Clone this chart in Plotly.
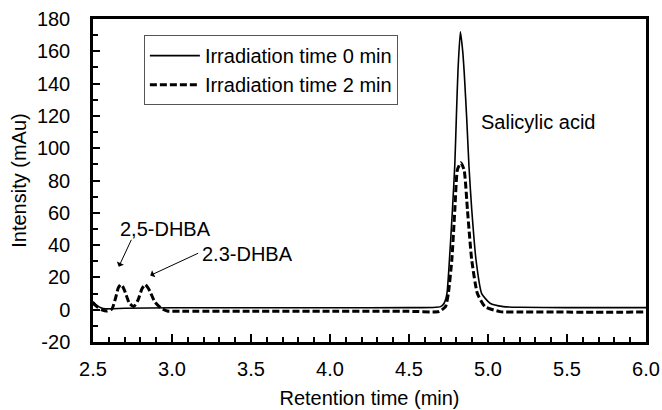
import plotly.graph_objects as go

# Retention time (min) and intensity (mAu)
time_0min = [2.50, 2.52, 2.55, 2.58, 2.62, 2.70, 3.00, 3.50, 4.00, 4.50, 4.65, 4.70,
             4.722, 4.74, 4.756, 4.775, 4.79, 4.80, 4.81, 4.825, 4.84, 4.85, 4.866,
             4.88, 4.897, 4.924, 4.96, 5.013, 5.097, 5.20, 5.50, 6.00]
intensity_0min = [5.0, 3.0, 1.2, 0.5, 0.6, 0.9, 1.2, 1.2, 1.2, 1.3, 1.4, 1.9,
                  4, 10, 31, 62, 90, 120, 148, 172, 160, 146, 117,
                  88, 62, 31, 10, 4, 1.9, 1.5, 1.3, 1.3]

time_2min = [2.50, 2.53, 2.56, 2.59, 2.62, 2.645, 2.66, 2.675, 2.69, 2.705, 2.73,
             2.758, 2.785, 2.81, 2.83, 2.845, 2.86, 2.89, 2.93, 2.97, 3.05, 3.50,
             4.00, 4.50, 4.69, 4.731, 4.749, 4.771, 4.790, 4.806, 4.828, 4.849,
             4.870, 4.897, 4.933, 4.981, 5.076, 5.20, 5.50, 6.00]
intensity_2min = [4.0, 1.5, -0.3, -0.8, 0.5, 8, 13.5, 15.5, 14.0, 10.5, 4,
                  1.9, 6, 13, 15.5, 14.0, 11.5, 5, 1, -0.8, -1.0, -1.0,
                  -1.0, -1.0, -1.1, 1.9, 10, 30.8, 61.7, 86.5, 91, 86.5,
                  61.7, 30.8, 10, 1.9, -1.2, -1.4, -1.5, -1.5]

series_names = ["Irradiation time 0 min", "Irradiation time 2 min"]
x_ticks = [2.5, 3.0, 3.5, 4.0, 4.5, 5.0, 5.5, 6.0]
x_tick_labels = ["2.5", "3.0", "3.5", "4.0", "4.5", "5.0", "5.5", "6.0"]
y_ticks = [-20, 0, 20, 40, 60, 80, 100, 120, 140, 160, 180]
y_tick_labels = ["-20", "0", "20", "40", "60", "80", "100", "120", "140", "160", "180"]

FONT = "Liberation Sans, Arial, sans-serif"
FS = 20

fig = go.Figure()
fig.add_trace(go.Scatter(x=time_0min, y=intensity_0min, mode="lines", name=series_names[0],
                         line=dict(color="black", width=1.6, shape="spline", smoothing=0.5)))
fig.add_trace(go.Scatter(x=time_2min, y=intensity_2min, mode="lines", name=series_names[1],
                         line=dict(color="black", width=3, dash="7px,3px", shape="spline", smoothing=0.5)))

# labels and arrows
fig.add_annotation(x=4.94, y=116, text="Salicylic acid", showarrow=False, xanchor="left",
                   yanchor="middle", font=dict(family=FONT, size=FS, color="black"))
fig.add_annotation(x=2.66, y=50, text="2,5-DHBA", showarrow=False, xanchor="left",
                   yanchor="middle", font=dict(family=FONT, size=FS, color="black"))
fig.add_annotation(x=3.18, y=34.5, text="2.3-DHBA", showarrow=False, xanchor="left",
                   yanchor="middle", font=dict(family=FONT, size=FS, color="black"))
fig.add_annotation(x=2.663, y=26.6, ax=2.747, ay=44.2, axref="x", ayref="y", text="",
                   showarrow=True, arrowhead=1, arrowsize=1.3, arrowwidth=1, arrowcolor="black")
fig.add_annotation(x=2.862, y=21.2, ax=3.175, ay=35.4, axref="x", ayref="y", text="",
                   showarrow=True, arrowhead=1, arrowsize=1.3, arrowwidth=1, arrowcolor="black")

fig.update_layout(
    width=662, height=410,
    margin=dict(l=93, r=16, t=19, b=68),
    paper_bgcolor="white", plot_bgcolor="white",
    font=dict(family=FONT, size=FS, color="black"),
    showlegend=True,
    legend=dict(x=0.092, y=0.95, xanchor="left", yanchor="top",
                bgcolor="white", bordercolor="#555555", borderwidth=1,
                font=dict(family=FONT, size=FS, color="black"),
                itemwidth=50, tracegroupgap=0),
    xaxis=dict(range=[2.5, 6.0], tickvals=x_ticks, ticktext=x_tick_labels,
               ticks="inside", ticklen=8, tickwidth=1.5, tickcolor="black",
               minor=dict(dtick=0.1, ticks="inside", ticklen=5, tickwidth=1.5, tickcolor="black"),
               showline=True, linewidth=2.5, linecolor="black", mirror=True,
               showgrid=False, zeroline=False, ticklabelstandoff=7, automargin=False,
               title=dict(text="Retention time (min)", standoff=13,
                          font=dict(family=FONT, size=FS, color="black"))),
    yaxis=dict(range=[-20, 180], tickvals=y_ticks, ticktext=y_tick_labels,
               ticks="inside", ticklen=7, tickwidth=1.5, tickcolor="black",
               minor=dict(dtick=10, ticks="inside", ticklen=5, tickwidth=1.5, tickcolor="black"),
               showline=True, linewidth=2.5, linecolor="black", mirror=True,
               showgrid=False, zeroline=False, ticklabelstandoff=16, automargin=False,
               title=dict(text="Intensity (mAu)", standoff=5,
                          font=dict(family=FONT, size=FS, color="black"))),
)

fig.write_html("out.html")
